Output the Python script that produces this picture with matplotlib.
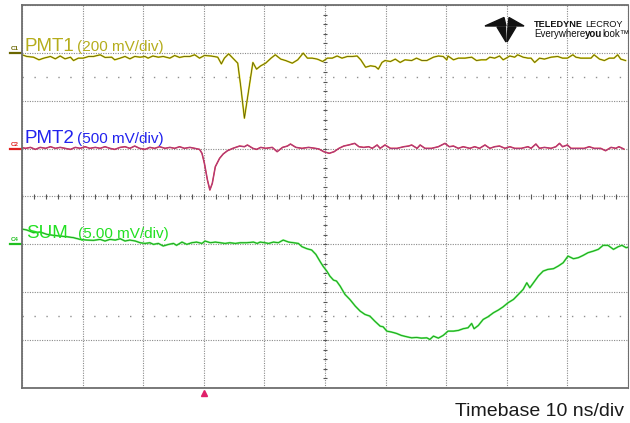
import numpy as np
import matplotlib
matplotlib.use("Agg")
import matplotlib.pyplot as plt
from matplotlib.patches import Polygon

plt.rcParams['font.family'] = ['Liberation Sans', 'DejaVu Sans']

# time axis: 10 ns/div, 10 divisions, trigger at -20 ns
t_min, t_max = -50, 50
trigger_t = -20

# channel settings (mV/div, offset in divisions)
pmt1_scale, pmt1_offset = 200, 3
pmt2_scale, pmt2_offset = 500, 1
sum_scale, sum_offset = 5.0, -1

# PMT1 trace (ns, mV)
pmt1_t = [-50.0, -49.2, -48.1, -47.2, -46.4, -45.3, -44.5, -43.7, -42.9, -42.0,
          -41.5, -40.7, -39.9, -39.0, -38.2, -37.1, -36.3, -35.2, -34.7, -33.8,
          -33.0, -32.2, -31.4, -30.5, -29.7, -29.2, -28.4, -27.5, -26.7, -25.6,
          -24.8, -24.0, -23.2, -22.3, -21.5, -20.7, -19.9, -18.8, -17.7, -17.1,
          -16.6, -15.9, -15.2, -14.4, -13.9, -13.3, -12.6, -11.9, -11.3, -10.6,
          -9.8, -8.9, -8.2, -7.3, -6.5, -5.4, -4.5, -3.6, -2.9, -2.1, -1.3,
          -1.0, -0.4, 0.4, 1.2, 2.0, 2.8, 3.7, 4.5, 5.3, 5.9, 6.7, 7.5, 8.3, 8.8,
          9.4, 9.9, 10.8, 11.6, 12.4, 13.2, 14.3, 15.1, 16.0, 16.8, 17.9, 18.7,
          19.5, 20.1, 20.3, 21.2, 22.0, 23.1, 24.2, 25.0, 25.8, 26.6, 27.2, 28.0,
          28.8, 29.4, 29.9, 30.5, 31.3, 31.8, 32.7, 33.5, 34.0, 34.6, 35.4, 36.2,
          37.3, 38.4, 39.2, 40.0, 40.9, 41.4, 42.2, 43.1, 43.9, 44.4, 45.3, 46.1,
          46.9, 47.7, 48.3, 48.8, 49.6]
pmt1_mv = [-8, -15, -18, -29, -22, -15, -25, -13, -25, -18,
           -32, -22, -22, -15, -15, -8, -19, -18, -29, -22,
           -15, -25, -15, -18, -15, -22, -13, -18, -15, -22,
           -11, -19, -15, -15, -8, -22, -11, -13, -18, -46,
           -22, -4, -22, -43, -141, -273, -155, -40, -68, -54,
           -43, -22, -8, -26, -32, -43, -29, -1, -22, -22, -26,
           -29, -36, -22, -22, -13, -22, -15, -15, -13, -29, -60, -54, -57, -68,
           -40, -32, -36, -26, -40, -29, -32, -22, -32, -32, -18, -13,
           -15, -29, -13, -29, -22, -22, -18, -32, -29, -29, -18, -22,
           -13, -29, -22, -13, -18, -8, -18, -22, -22, -40, -22, -26,
           -18, -15, -22, -22, -8, -18, -22, -22, -22, -8, -26, -32,
           -22, -22, -8, -26, -32]

# PMT2 trace (ns, mV)
pmt2_t = [-50.3, -49.4, -48.6, -47.8, -47.0, -46.1, -45.3, -44.5, -43.7, -42.9,
          -42.0, -41.2, -40.4, -39.6, -38.8, -37.9, -37.1, -36.3, -35.5, -34.7,
          -33.8, -33.0, -32.2, -31.4, -30.6, -29.7, -28.9, -28.1, -27.3, -26.4,
          -25.6, -24.8, -24.0, -23.2, -22.3, -21.5, -20.7, -20.3, -19.9, -19.4,
          -19.0, -18.6, -18.1, -17.4, -16.8, -16.1, -15.2, -14.1, -13.3, -12.8,
          -11.9, -11.3, -10.6, -9.8, -8.7, -7.9, -7.0, -6.2, -5.7, -4.8, -3.8,
          -2.7, -1.6, -1.0, -0.2, 0.7, 1.5, 2.3, 3.1, 3.9, 4.9, 5.6, 6.4, 7.2,
          7.8, 8.6, 9.1, 9.9, 10.8, 11.9, 13.0, 13.8, 14.3, 15.2, 15.7, 16.5,
          17.6, 18.7, 19.8, 20.5, 21.2, 22.0, 22.8, 23.9, 24.7, 25.5, 26.4, 27.2,
          28.0, 28.8, 29.7, 30.5, 31.3, 32.4, 33.5, 34.0, 34.8, 35.4, 36.2, 37.3,
          38.1, 38.7, 39.2, 40.0, 40.6, 41.7, 42.8, 43.6, 44.4, 45.5, 46.3, 47.2,
          48.0, 48.5, 49.3]
pmt2_mv = [13, 3, 13, -8, 13, 3, 20, 3, 13, 3,
           -8, 13, 3, 20, 3, 13, 3, 20, 3, -8,
           13, 20, 3, 27, 3, -8, 13, 3, 20, 3,
           13, 3, 20, 3, 13, 3, -8, -49, -154, -328,
           -432, -363, -189, -102, -56, -22, 3, 27, 20, 38,
           3, -8, 13, 3, 13, -32, 13, 27, 48, 13, 3,
           13, 3, -4, -32, -49, -32, 3, 27, 38, 55, 20, 13, 20,
           3, 38, 3, 38, 3, 3, 20, 27, 38, 3, 38, 3,
           3, 20, 55, 20, 27, 3, 20, 3, 20, 3, 38, 3,
           20, 27, 3, 20, 3, 3, 20, 3, 48, 3, 13, 3,
           20, 55, 20, 38, 3, 3, 3, 20, 3, 3, -22, 13,
           3, 20, -4]

# SUM trace (ns, mV)
sum_t = [-50.3, -49.2, -48.1, -47.0, -45.9, -44.8, -43.7, -42.6, -41.5, -40.4,
         -39.3, -38.2, -37.1, -36.3, -35.5, -34.6, -33.8, -33.0, -32.2, -31.3,
         -30.5, -29.7, -28.9, -28.3, -27.5, -26.7, -25.8, -25.0, -24.5, -23.6,
         -22.8, -22.0, -21.2, -20.3, -19.8, -18.9, -18.1, -17.3, -16.5, -15.7,
         -14.8, -14.0, -12.9, -11.8, -11.2, -10.7, -9.9, -9.3, -8.5, -7.7,
         -6.9, -6.0, -5.2, -4.4, -3.8, -3.0, -2.2, -1.5, -0.8, -0.3,
         0.3, 0.8, 1.4, 1.9, 2.5, 3.3, 4.1, 5.0, 5.8, 6.6, 7.4, 8.2, 9.1, 9.6,
         10.2, 11.0, 11.8, 12.6, 13.5, 14.3, 15.1, 15.9, 16.8, 17.3, 17.9, 18.7,
         19.5, 20.3, 21.2, 22.0, 22.8, 23.6, 24.2, 24.6, 25.3, 26.1, 26.9, 27.8,
         28.6, 29.4, 30.2, 31.1, 31.9, 32.7, 33.3, 33.8, 34.4, 35.2, 36.0, 36.8,
         37.7, 38.5, 39.3, 40.1, 41.0, 41.8, 42.6, 43.4, 44.3, 45.1, 45.9, 46.7,
         47.6, 48.4, 49.0, 49.7, 50.3]
sum_mv = [1.64, 1.50, 1.22, 1.29, 1.05, 0.94, 0.87, 0.80, 0.70, 0.52,
          0.45, 0.42, 0.52, 0.35, 0.52, 0.45, 0.59, 0.35, 0.45, 0.35,
          0.17, 0.10, 0.17, 0.0, 0.10, -0.17, 0.0, 0.10, -0.10, 0.24,
          0.0, 0.17, 0.24, 0.10, 0.35, 0.17, 0.24, 0.17, 0.10, 0.17,
          0.10, 0.17, 0.17, 0.24, 0.10, 0.24, 0.17, 0.10, 0.24, 0.17,
          0.45, 0.24, 0.17, 0.10, -0.24, -0.45, -0.59, -1.05, -1.8, -2.3,
          -2.79, -3.31, -3.73, -3.83, -4.36, -5.23, -5.75, -6.45, -6.97, -7.32,
          -7.49, -8.01, -8.54, -8.61,
          -9.06, -9.16, -9.30, -9.51, -9.65, -9.76, -9.72, -9.79, -9.76, -9.93,
          -9.58, -9.79,
          -9.51, -9.06, -9.06, -8.99, -8.81, -8.71, -8.26, -8.81, -8.47, -7.84,
          -7.56, -7.14,
          -6.86, -6.52, -6.10, -5.75, -5.23, -4.70, -4.01, -4.53, -4.01, -3.31,
          -2.79, -2.61,
          -2.54, -2.26, -1.92, -1.22, -1.50, -1.39, -1.15, -0.87, -0.70, -0.52,
          -0.10, -0.10,
          -0.52, -0.24, -0.10, -0.35, -0.24]

W, H = 630, 423
fig = plt.figure(figsize=(W / 100, H / 100), dpi=100)
fig.patch.set_facecolor('white')

# grid area in pixels: x 22..628, y 5..388
gx0, gx1, gy0, gy1 = 22, 628, 5, 388
ax = fig.add_axes([gx0 / W, 1 - gy1 / H, (gx1 - gx0) / W, (gy1 - gy0) / H])
ax.set_xlim(t_min, t_max)
ax.set_ylim(-4, 4)
ax.set_xticks(np.arange(t_min, t_max + 1, 10))
ax.set_yticks(np.arange(-4, 5, 1))
ax.tick_params(length=0, labelbottom=False, labelleft=False)
ax.grid(True, color='#8a8a8a', linestyle=(0, (1, 1.2)), linewidth=0.8)
for side in ['left', 'top', 'bottom', 'right']:
    ax.spines[side].set_color('#6e6e6e')
    ax.spines[side].set_linewidth(1.3)
ax.spines['right'].set_linewidth(0.8)

# sparse dotted rows at +/-2.5 div
for yy in (2.5, -2.5):
    ax.axhline(yy, color='#909090', linestyle=(0, (1, 7.6)), linewidth=1.0)

# minor ticks on the centre cross
mt = np.arange(t_min, t_max + 0.1, 2)
ax.vlines(mt, -0.06, 0.06, color='#555555', linewidth=0.8)
my = np.arange(-4, 4.01, 0.2)
ax.hlines(my, -0.35, 0.35, color='#555555', linewidth=0.8)

def to_div(mv, scale, offset):
    return np.array(mv) / scale + offset

# traces
y1 = to_div(pmt1_mv, pmt1_scale, pmt1_offset)
ax.plot(pmt1_t, y1, color='#e8e020', linewidth=1.3, solid_joinstyle='round')
ax.plot(pmt1_t, y1, color='#5c5a10', linewidth=0.6)

y2 = to_div(pmt2_mv, pmt2_scale, pmt2_offset)
ax.plot(pmt2_t, y2, color='#e8202a', linewidth=1.1)
ax.plot(pmt2_t, y2, color='#8a4aa8', linewidth=0.6, alpha=0.85)

y4 = to_div(sum_mv, sum_scale, sum_offset)
ax.plot(sum_t, y4, color='#70f070', linewidth=1.4, solid_joinstyle='round')
ax.plot(sum_t, y4, color='#139a13', linewidth=0.6)

# channel labels
lab_x = -49.6
ax.text(lab_x, 3.03, 'PMT1', color='#b5ad1c', fontsize=13.5, va='baseline')
ax.text(-40.9, 3.03, '(200 mV/div)', color='#b5ad1c', fontsize=11, va='baseline')
ax.text(lab_x, 1.12, 'PMT2', color='#2222ee', fontsize=13.5, va='baseline')
ax.text(-40.9, 1.12, '(500 mV/div)', color='#2222ee', fontsize=11, va='baseline')
ax.text(-49.3, -0.86, 'SUM', color='#22e022', fontsize=13.5, va='baseline')
ax.text(-40.8, -0.86, '(5.00 mV/div)', color='#22e022', fontsize=11, va='baseline')

# channel offset markers on the left
for name, off, col in [('C1', pmt1_offset, '#6a6600'), ('C2', pmt2_offset, '#e02020'),
                       ('C4', sum_offset, '#20c020')]:
    ax.plot([-51.9, -50.1], [off, off], color=col, linewidth=1.6, clip_on=False)
    ax.text(-51.9, off + 0.04, name, color=col, fontsize=4.5, fontweight='bold',
            va='bottom', ha='left', clip_on=False)

# trigger marker
ax.plot([trigger_t], [-4.1], marker='^', color='#e0206a', markersize=4.5,
        clip_on=False, linestyle='none')

# logo
def px(x, y):
    return (x / W, 1 - y / H)

logo_col = '#111111'
for pts in ([(485, 26), (504, 17.5), (506, 26)],
            [(509, 17.5), (524, 26), (508, 26)],
            [(497, 27), (505.5, 27), (506, 42)],
            [(508, 27), (516, 27), (507, 42)]):
    fig.patches.append(Polygon([px(*p) for p in pts], closed=True,
                               transform=fig.transFigure, color=logo_col))

renderer = fig.canvas.get_renderer()

def text_run(x0, y0, parts):
    # place text pieces one after another along a baseline
    x = x0
    for s, size, weight in parts:
        t = fig.text(*px(x, y0), s, fontsize=size, fontweight=weight,
                     color=logo_col, va='baseline')
        x = t.get_window_extent(renderer).x1 + (2 if s.endswith('E') else 0)

text_run(534, 27, [('TELEDYNE', 6.6, 'bold'), ('LECROY', 6.6, 'normal')])
text_run(534, 37, [('Everywhere', 7, 'normal'), ('you', 7, 'bold'),
                   ('look\u2122', 7, 'normal')])

fig.text(*px(624, 416), 'Timebase 10 ns/div', fontsize=14, color='#1a1a1a',
         ha='right', va='baseline')

fig.savefig('out.png', dpi=100)
